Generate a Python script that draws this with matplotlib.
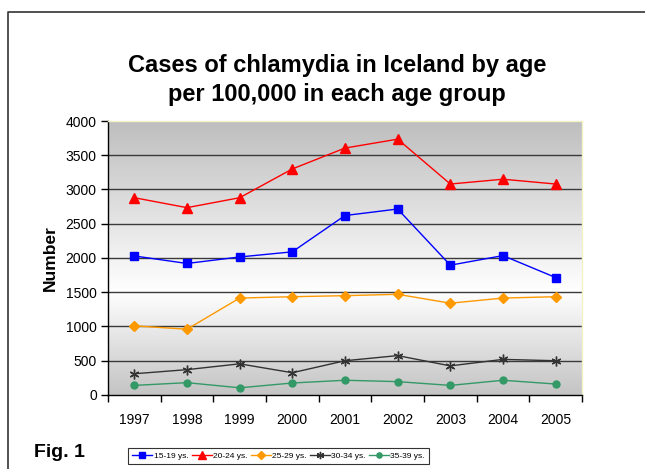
import numpy as np
import matplotlib
matplotlib.use('Agg')
import matplotlib.pyplot as plt
from matplotlib.colors import LinearSegmentedColormap
from matplotlib.lines import Line2D
from matplotlib import font_manager

plt.rcParams['font.family'] = ['Liberation Sans', 'DejaVu Sans']

years = ['1997', '1998', '1999', '2000', '2001', '2002', '2003', '2004', '2005']
age_15_19 = [2030, 1920, 2015, 2090, 2620, 2715, 1895, 2035, 1715]
age_20_24 = [2880, 2735, 2880, 3300, 3605, 3735, 3080, 3150, 3080]
age_25_29 = [1010, 960, 1415, 1435, 1450, 1470, 1340, 1415, 1435]
age_30_34 = [310, 370, 455, 325, 500, 575, 425, 520, 500]
age_35_39 = [140, 180, 105, 175, 215, 195, 140, 215, 160]
series_labels = ['15-19 ys.', '20-24 ys.', '25-29 ys.', '30-34 ys.', '35-39 ys.']

names = {f.name for f in font_manager.fontManager.ttflist}
legend_family = 'Liberation Sans Narrow' if 'Liberation Sans Narrow' in names else 'Liberation Sans'

fig = plt.figure(figsize=(6.45, 4.69), dpi=100)
ax = fig.add_axes([0.1674, 0.1578, 0.7349, 0.5842])

x = np.arange(1, len(years) + 1)

# gradient background: grey at top, white in the middle, grey at bottom
cmap = LinearSegmentedColormap.from_list(
    'bg', [(0.0, '#c4c4c4'), (0.38, '#ffffff'), (1.0, '#bebebe')])
grad = np.linspace(0, 1, 256).reshape(-1, 1)
ax.imshow(grad, extent=[0.5, 9.5, 0, 4000], aspect='auto', cmap=cmap,
          origin='lower', zorder=0)

for yv in range(500, 4000, 500):
    ax.axhline(yv, color='#3a3a3a', lw=1.0, zorder=1)

ax.plot(x, age_15_19, color='#0000ff', lw=1.0, marker='s', ms=6, label=series_labels[0], zorder=3)
ax.plot(x, age_20_24, color='#ff0000', lw=1.0, marker='^', ms=7, label=series_labels[1], zorder=3)
ax.plot(x, age_25_29, color='#ff9900', lw=1.0, marker='D', ms=5, label=series_labels[2], zorder=3)
ax.plot(x, age_30_34, color='#333333', lw=1.0, marker=(6, 2, 0), ms=7, mew=1.0, label=series_labels[3], zorder=3)
ax.plot(x, age_35_39, color='#339966', lw=1.0, marker='o', ms=5, label=series_labels[4], zorder=3)

ax.set_xlim(0.5, 9.5)
ax.set_ylim(0, 4000)
ax.set_yticks(range(0, 4001, 500))
ax.set_xticks(x)
ax.set_xticklabels(years)
ax.set_xticks(np.arange(0.5, 10, 1), minor=True)
ax.tick_params(axis='x', which='major', length=0, pad=13, labelsize=10)
ax.tick_params(axis='x', which='minor', length=5, width=1, direction='out')
ax.tick_params(axis='y', length=5, width=1, direction='out', pad=3, labelsize=10)

for side in ['left', 'bottom']:
    ax.spines[side].set_color('black')
    ax.spines[side].set_linewidth(1.0)
for side in ['top', 'right']:
    ax.spines[side].set_color('#f2f2c8')
    ax.spines[side].set_linewidth(1.0)

ax.set_ylabel('Number', fontsize=12.5, fontweight='bold', labelpad=6)

fig.text(0.523, 1 - 65 / 469, 'Cases of chlamydia in Iceland by age',
         ha='center', va='center', fontsize=17, fontweight='bold')
fig.text(0.523, 1 - 94 / 469, 'per 100,000 in each age group',
         ha='center', va='center', fontsize=17, fontweight='bold')

fig.text(34 / 645, 1 - 457 / 469, 'Fig. 1', ha='left', va='baseline',
         fontsize=14, fontweight='bold')

# outer frame (left and top edges only)
fig.add_artist(Line2D([8 / 645, 8 / 645, 1.0], [0.0, 1 - 12 / 469, 1 - 12 / 469],
                      color='#333333', lw=1.2, transform=fig.transFigure))

leg = fig.legend(loc='upper left', bbox_to_anchor=(128 / 645, 1 - 448 / 469),
                 ncol=5, frameon=True, fancybox=False,
                 prop={'family': legend_family, 'size': 6},
                 handlelength=2.4, handletextpad=0.2, columnspacing=0.35,
                 borderpad=0.5, borderaxespad=0, markerscale=0.75)
leg.get_frame().set_edgecolor('black')
leg.get_frame().set_linewidth(0.8)

plt.savefig('out.png', dpi=100)
